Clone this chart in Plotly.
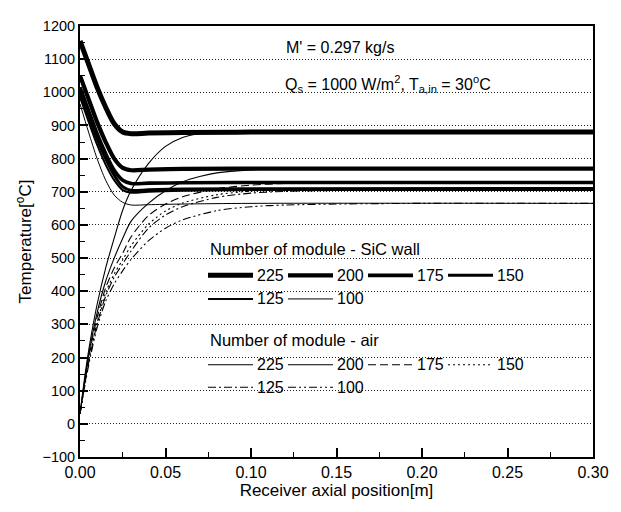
import plotly.graph_objects as go

# ---------------- data ----------------
# SiC wall temperature, number of modules 225..100
wall_x = [0.0, 0.005, 0.01, 0.015, 0.02, 0.025, 0.03, 0.04, 0.06, 0.1, 0.3]
wall_225 = [1155, 1085, 1015, 955, 905, 880, 875, 877, 879, 880, 880]
wall_200 = [1050, 980, 910, 850, 800, 772, 765, 767, 769, 770, 770]
wall_175 = [1015, 945, 875, 815, 765, 735, 725, 726, 727, 728, 728]
wall_150 = [1000, 930, 860, 800, 750, 715, 704, 706, 708, 709, 710]
wall_125 = [985, 912, 842, 782, 735, 705, 697, 700, 703, 705, 705]
wall_100 = [965, 880, 800, 735, 690, 668, 660, 661, 663, 665, 665]

# air temperature
air_x_225 = [0.0, 0.003, 0.006, 0.01, 0.015, 0.02, 0.025, 0.03, 0.04, 0.05, 0.06, 0.07, 0.08, 0.1, 0.3]
air_225 = [30, 150, 250, 360, 470, 560, 645, 705, 785, 837, 864, 875, 879, 880, 880]
air_x_200 = [0.0, 0.003, 0.006, 0.01, 0.015, 0.02, 0.025, 0.03, 0.04, 0.05, 0.06, 0.07, 0.08, 0.1, 0.12, 0.3]
air_200 = [30, 140, 235, 335, 430, 500, 560, 612, 665, 703, 730, 746, 757, 766, 769, 770]
air_x = [0.0, 0.003, 0.006, 0.01, 0.015, 0.02, 0.025, 0.03, 0.04, 0.05, 0.06, 0.08, 0.1, 0.12, 0.15, 0.2, 0.3]
air_175 = [30, 135, 225, 320, 410, 470, 515, 565, 628, 663, 685, 709, 720, 725, 728, 728, 728]
air_150 = [30, 130, 215, 305, 395, 452, 495, 538, 602, 642, 666, 691, 702, 707, 709, 710, 710]
air_125 = [30, 125, 210, 300, 385, 442, 483, 522, 590, 630, 655, 683, 696, 701, 704, 705, 705]
air_100 = [30, 120, 200, 290, 370, 422, 462, 497, 552, 590, 615, 643, 655, 660, 663, 665, 665]

modules = ["225", "200", "175", "150", "125", "100"]
x_ticks = [0.0, 0.05, 0.10, 0.15, 0.20, 0.25, 0.30]
y_ticks = list(range(-100, 1201, 100))

# ---------------- styles ----------------
wall_widths = [5, 4.2, 3.6, 3.0, 2.0, 1.0]
air_dashes = ["solid", "solid", "8px,4px", "2px,3px", "8px,3px,2px,3px",
              "8px,3px,2px,3px,2px,3px"]
FONT = "Liberation Sans, Arial, sans-serif"

fig = go.Figure()

walls = [wall_225, wall_200, wall_175, wall_150, wall_125, wall_100]
for name, ys, w in zip(modules, walls, wall_widths):
    fig.add_trace(go.Scatter(x=wall_x, y=ys, mode="lines", name="SiC " + name,
                             line=dict(color="black", width=w, shape="spline", smoothing=0.8),
                             showlegend=False))

airs = [(air_x_225, air_225), (air_x_200, air_200), (air_x, air_175),
        (air_x, air_150), (air_x, air_125), (air_x, air_100)]
for name, (xs, ys), d in zip(modules, airs, air_dashes):
    fig.add_trace(go.Scatter(x=xs, y=ys, mode="lines", name="air " + name,
                             line=dict(color="black", width=1.1, dash=d, shape="spline", smoothing=0.8),
                             showlegend=False))

# ---------------- layout geometry (page pixels; body has an 8px margin) ----------------
W, H = 621, 512
OFF = 8
PL, PT, PR, PB = 80, 18, 593, 457     # plot area in screenshot pixels
pw, ph = PR - PL, PB - PT

def px(xp):
    return (xp - PL) / pw

def py(yp):
    return 1 - (yp - PT) / ph

shapes = []
annotations = []

def text(t, x, y, size=16):
    annotations.append(dict(text=t, xref="paper", yref="paper", x=px(x), y=py(y),
                            xanchor="left", yanchor="middle", showarrow=False,
                            font=dict(size=size, family=FONT, color="black")))

def legend_row(y, items, x0=208):
    x = x0
    for label, width, dash in items:
        shapes.append(dict(type="line", xref="paper", yref="paper",
                           x0=px(x), x1=px(x + 45), y0=py(y), y1=py(y),
                           line=dict(color="black", width=width, dash=dash)))
        text(label, x + 47, y, 16)
        x += 80

text("Number of module - SiC wall", 208, 245, 16.5)
legend_row(272, [(m, w, "solid") for m, w in zip(modules[:4], wall_widths[:4])])
legend_row(296, [(m, w, "solid") for m, w in zip(modules[4:], wall_widths[4:])])

text("Number of module - air", 208, 338, 16.5)
legend_row(363, [(m, 1.1, d) for m, d in zip(modules[:4], air_dashes[:4])])
legend_row(386, [(m, 1.1, d) for m, d in zip(modules[4:], air_dashes[4:])])

text("M' = 0.297 kg/s", 284, 40, 16)
text("Q<sub>s</sub> = 1000 W/m<sup>2</sup>, T<sub>a,in</sub> = 30<sup>o</sup>C", 283, 77, 16)

fig.update_layout(
    width=W - OFF, height=H - OFF,
    margin=dict(l=PL - OFF, r=W - PR, t=PT - OFF, b=H - PB, pad=0),
    paper_bgcolor="white", plot_bgcolor="white",
    font=dict(family=FONT, size=15, color="black"),
    shapes=shapes, annotations=annotations,
    showlegend=False,
    xaxis=dict(range=[0, 0.3], tickvals=x_ticks, tickformat=".2f",
               ticks="inside", ticklen=9, tickwidth=1.5, tickcolor="black",
               minor=dict(ticks="inside", ticklen=5, dtick=0.025, tickcolor="black", tickwidth=1.2, showgrid=False),
               showgrid=False, zeroline=False,
               showline=True, linecolor="black", linewidth=2, mirror=True,
               title=dict(text="Receiver axial position[m]", font=dict(size=17), standoff=2),
               tickfont=dict(size=16)),
    yaxis=dict(range=[-100, 1200], tickvals=y_ticks,
               ticks="inside", ticklen=8, tickwidth=1.5, tickcolor="black",
               minor=dict(ticks="inside", ticklen=5, dtick=50, tickcolor="black", tickwidth=1.2, showgrid=False),
               showgrid=True, gridcolor="#222", gridwidth=1, griddash="1px,2px",
               zeroline=False,
               showline=True, linecolor="black", linewidth=2, mirror=True,
               title=dict(text="Temperature[<sup>o</sup>C]", font=dict(size=17), standoff=6),
               tickfont=dict(size=14.5)),
)

fig.write_html("out.html")
